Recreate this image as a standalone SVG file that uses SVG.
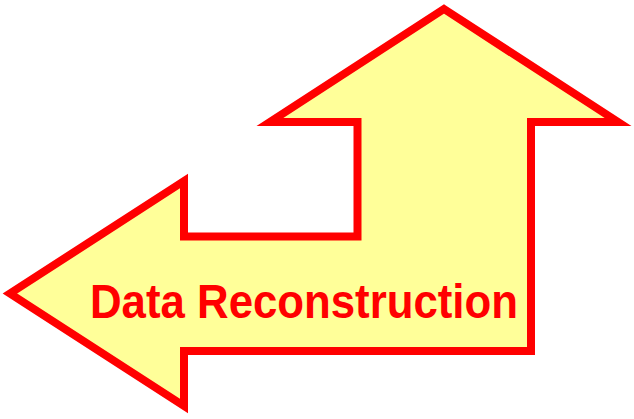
<svg xmlns="http://www.w3.org/2000/svg" width="634" height="419" viewBox="0 0 634 419">
<style>
.shape{fill:#FFFF99;stroke:#FF0000;stroke-width:8;stroke-linejoin:miter;stroke-miterlimit:10}
.label{font-family:"Liberation Sans",Arial,sans-serif;font-weight:bold;font-size:48px;fill:#FF0000}
</style>
<rect width="634" height="419" fill="#FFFFFF"/>
<g id="arrow">
<polygon class="shape" points="444,9 618,122 531,122 531,351 184,351 184,406 10,293.5 184,181 184,236.5 357.5,236.5 357.5,122 270,122"/>
</g>
<g id="label">
<text class="label" x="90" y="318" textLength="428" lengthAdjust="spacingAndGlyphs">Data Reconstruction</text>
</g>
</svg>
